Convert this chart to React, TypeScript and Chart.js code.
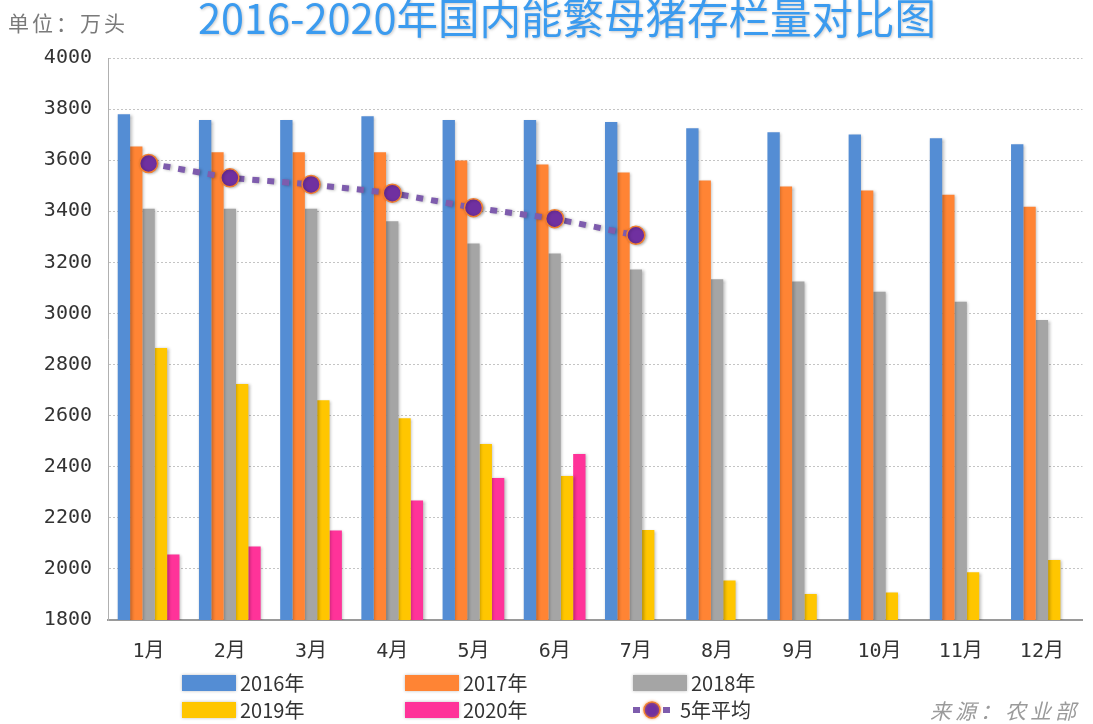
import React, { useEffect, useRef } from "react";
import { Chart, registerables } from "chart.js";

Chart.register(...registerables);

// ---------- data ----------
const months = ["1月", "2月", "3月", "4月", "5月", "6月", "7月", "8月", "9月", "10月", "11月", "12月"];
const seriesNames = ["2016年", "2017年", "2018年", "2019年", "2020年"];
const s2016 = [3780, 3757, 3757, 3772, 3757, 3757, 3749, 3725, 3709, 3701, 3686, 3662];
const s2017 = [3654, 3631, 3631, 3631, 3599, 3583, 3552, 3520, 3497, 3481, 3465, 3418];
const s2018 = [3410, 3410, 3410, 3361, 3274, 3235, 3172, 3134, 3125, 3085, 3046, 2974];
const s2019 = [2865, 2724, 2660, 2590, 2489, 2364, 2152, 1955, 1902, 1908, 1987, 2035];
const s2020 = [2056, 2088, 2150, 2268, 2356, 2450];
const avgName = "5年平均";
const avg5 = [3587, 3531, 3505, 3471, 3414, 3371, 3306];
const yMin = 1800;
const yMax = 4000;
const yStep = 200;
const titleText = "2016-2020年国内能繁母猪存栏量对比图";
const unitText = "单位：万头";
const sourceText = "来源：农业部";

// ---------- styles ----------
const barColors = ["#548DD4", "#FF8434", "#A5A5A5", "#FFC600", "#FF3399"];
const lineColor = "#7E5CAD";
const pointFill = "#7030A0";
const pointBorder = "#F07F2F";
const legendSlots = [
  { x: 182, y: 683 },
  { x: 405, y: 683 },
  { x: 633, y: 683 },
  { x: 182, y: 710 },
  { x: 405, y: 710 },
  { x: 633, y: 710 },
];

const shadowPlugin = {
  id: "barShadow",
  beforeDatasetsDraw(chart: any) {
    const c = chart.ctx;
    c.save();
    c.shadowColor = "rgba(0,0,0,0.28)";
    c.shadowBlur = 3;
    c.shadowOffsetX = 1.5;
    c.shadowOffsetY = 0.5;
  },
  afterDatasetsDraw(chart: any) {
    chart.ctx.restore();
  },
};

const decorPlugin = {
  id: "decor",
  afterDraw(chart: any) {
    const ctx = chart.ctx as CanvasRenderingContext2D;
    ctx.save();
    // unit label
    ctx.textBaseline = "middle";
    ctx.textAlign = "left";
    ctx.fillStyle = "#7a7a7a";
    ctx.font = '21px "Noto Sans CJK SC"';
    (ctx as any).letterSpacing = "3px";
    ctx.fillText(unitText, 8, 23);
    (ctx as any).letterSpacing = "0px";

    // title
    ctx.save();
    ctx.textAlign = "center";
    ctx.font = '400 41.5px "Noto Sans CJK SC"';
    ctx.fillStyle = "#3B9BEF";
    ctx.shadowColor = "rgba(0,0,0,0.22)";
    ctx.shadowBlur = 3;
    ctx.shadowOffsetX = 1;
    ctx.shadowOffsetY = 1;
    ctx.fillText(titleText, 567, 18);
    ctx.restore();

    // legend
    ctx.font = '20px "Noto Sans CJK SC"';
    ctx.textAlign = "left";
    ctx.textBaseline = "middle";
    const ds = chart.data.datasets;
    const bars = ds.filter((d: any) => d.type !== "line");
    const line = ds.find((d: any) => d.type === "line");
    bars.forEach((d: any, i: number) => {
      const s = legendSlots[i];
      ctx.save();
      ctx.shadowColor = "rgba(0,0,0,0.25)";
      ctx.shadowBlur = 3;
      ctx.fillStyle = d.backgroundColor;
      ctx.fillRect(s.x, s.y - 8, 54, 16);
      ctx.restore();
      ctx.fillStyle = "#333";
      ctx.fillText(d.label, s.x + 58, s.y);
    });
    if (line) {
      const s = legendSlots[bars.length];
      ctx.save();
      ctx.strokeStyle = lineColor;
      ctx.lineWidth = 6;
      ctx.setLineDash([7, 8]);
      ctx.beginPath();
      ctx.moveTo(s.x, s.y);
      ctx.lineTo(s.x + 38, s.y);
      ctx.stroke();
      ctx.setLineDash([]);
      ctx.shadowColor = "rgba(240,127,47,0.6)";
      ctx.shadowBlur = 3;
      ctx.beginPath();
      ctx.arc(s.x + 19, s.y, 8, 0, Math.PI * 2);
      ctx.fillStyle = pointFill;
      ctx.fill();
      ctx.lineWidth = 1.5;
      ctx.strokeStyle = pointBorder;
      ctx.stroke();
      ctx.restore();
      ctx.fillStyle = "#333";
      ctx.fillText(line.label, s.x + 47, s.y);
    }

    // source
    ctx.font = 'italic 21px "Noto Sans CJK SC"';
    ctx.fillStyle = "#9a9a9a";
    ctx.textAlign = "right";
    (ctx as any).letterSpacing = "4px";
    ctx.fillText(sourceText, 1080, 711);
    ctx.restore();
  },
};

export default function App() {
  const ref = useRef<HTMLCanvasElement | null>(null);

  useEffect(() => {
    if (!ref.current) return;
    const barSeries = [s2016, s2017, s2018, s2019, s2020];
    const datasets: any[] = [
      {
        type: "line",
        label: avgName,
        data: avg5,
        borderColor: lineColor,
        borderWidth: 6,
        borderDash: [7, 8],
        borderCapStyle: "butt",
        pointRadius: 9,
        pointBackgroundColor: pointFill,
        pointBorderColor: pointBorder,
        pointBorderWidth: 1.5,
        fill: false,
        tension: 0,
        order: 0,
      },
      ...barSeries.map((d, i) => ({
        type: "bar",
        label: seriesNames[i],
        data: d,
        backgroundColor: barColors[i],
        borderWidth: 0,
        barPercentage: 1,
        categoryPercentage: 0.76,
        order: 1,
      })),
    ];
    const tickFont = { family: '"DejaVu Sans Mono", "Noto Sans CJK SC"', size: 20 };
    const chart = new Chart(ref.current, {
      type: "bar",
      data: { labels: months, datasets },
      options: {
        animation: false,
        responsive: false,
        maintainAspectRatio: false,
        layout: { padding: { left: 0, right: 8, top: 58, bottom: 54 } },
        plugins: { legend: { display: false }, tooltip: { enabled: false }, title: { display: false } },
        scales: {
          x: {
            grid: { display: false, drawTicks: false },
            border: { display: true, color: "#9a9a9a", width: 2 },
            ticks: { color: "#333", font: tickFont, padding: 20, maxRotation: 0, autoSkip: false },
            afterFit: (scale: any) => {
              scale.height = 50;
            },
          },
          y: {
            min: yMin,
            max: yMax,
            grid: { color: "#c4c4c4", lineWidth: 1, drawTicks: false },
            border: { display: true, color: "#b0b0b0", width: 1, dash: [2, 2] },
            ticks: {
              stepSize: yStep,
              color: "#333",
              font: tickFont,
              padding: 16,
              callback: (v: any) => String(v),
            },
            afterFit: (scale: any) => {
              scale.width = 108;
            },
          },
        },
      } as any,
      plugins: [shadowPlugin, decorPlugin],
    });
    return () => chart.destroy();
  }, []);

  return (
    <div style={{ position: "fixed", left: 0, top: 0, width: 1093, height: 724, background: "#fff" }}>
      <canvas ref={ref} width={1093} height={724} style={{ display: "block" }} />
    </div>
  );
}
